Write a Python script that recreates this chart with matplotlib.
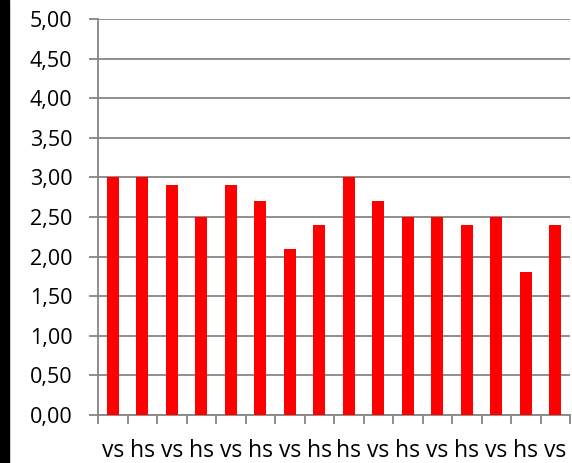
import matplotlib
matplotlib.use("Agg")
import matplotlib.pyplot as plt
from matplotlib.ticker import FixedLocator, FuncFormatter
from matplotlib.patches import Rectangle

labels = ["vs", "hs", "vs", "hs", "vs", "hs", "vs", "hs", "hs", "vs", "hs", "vs", "hs", "vs", "hs", "vs"]
values = [3.0, 3.0, 2.9, 2.5, 2.9, 2.7, 2.1, 2.4, 3.0, 2.7, 2.5, 2.5, 2.4, 2.5, 1.8, 2.4]
yticks = [0, 0.5, 1, 1.5, 2, 2.5, 3, 3.5, 4, 4.5, 5]

plt.rcParams['font.family'] = ['Open Sans', 'DejaVu Sans']
fig = plt.figure(figsize=(5.72, 4.63), dpi=100)
fig.patches.append(Rectangle((0, 0), 9 / 572, 1, transform=fig.transFigure, color='black', zorder=10))
ax = fig.add_axes([98 / 572, 48 / 463, 472 / 572, (415 - 19) / 463])

x = list(range(1, len(values) + 1))
ax.bar(x, values, width=0.39, color='#FF0000', zorder=3)

gray = '#868686'
ax.set_xlim(0.5, len(values) + 0.5)
ax.set_ylim(0, 5)
ax.set_yticks(yticks)
ax.yaxis.set_major_formatter(FuncFormatter(lambda v, p: f"{v:.2f}".replace('.', ',')))
ax.grid(axis='y', color=gray, linewidth=1.3, zorder=0)
ax.xaxis.set_major_locator(FixedLocator([i + 0.5 for i in range(len(values) + 1)]))
ax.xaxis.set_major_formatter(FuncFormatter(lambda v, p: ""))
ax.xaxis.set_minor_locator(FixedLocator(x))
ax.set_xticklabels(labels, minor=True)
ax.tick_params(axis='x', which='minor', length=0, pad=17.5, labelsize=16.5)
ax.tick_params(axis='x', which='major', length=6.5, color=gray, width=1.3)
ax.tick_params(axis='y', length=6.5, color=gray, width=1.3, labelsize=15.5, pad=12)
for s in ['top', 'right']:
    ax.spines[s].set_visible(False)
for s in ['left', 'bottom']:
    ax.spines[s].set_color(gray)
    ax.spines[s].set_linewidth(1.3)

fig.savefig("out.png", dpi=100)
